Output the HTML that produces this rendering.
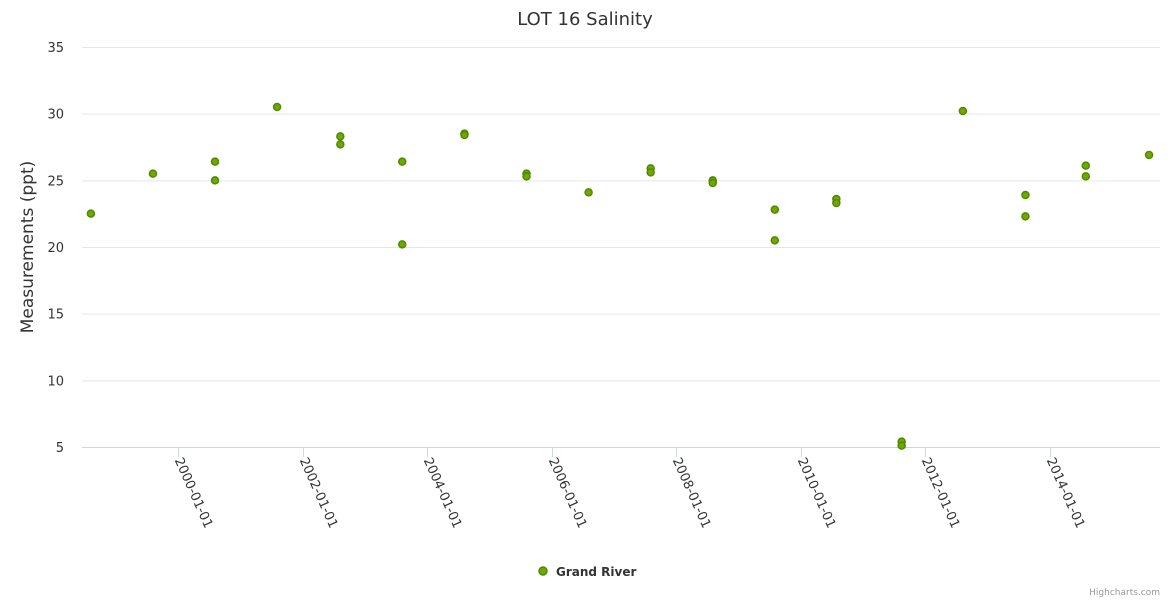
<!DOCTYPE html>
<html><head><meta charset="utf-8"><style>
body{margin:0;background:#fff;font-family:"DejaVu Sans","Liberation Sans",sans-serif;}
svg text{font-family:"DejaVu Sans","Liberation Sans",sans-serif;}
</style></head><body>
<svg id="c" width="1170" height="600">
<text x="585" y="25" text-anchor="middle" font-size="18" fill="#333">LOT 16 Salinity</text>
<text transform="translate(33,247) rotate(-90)" text-anchor="middle" font-size="17" fill="#333">Measurements (ppt)</text>
<g id="grid"></g><g id="xaxis"></g><g id="pts"></g>
<g>
<circle cx="543" cy="571" r="4" fill="#72a603" stroke="#4f8a00" stroke-width="1.5"/>
<text x="556" y="576" font-size="12" font-weight="bold" fill="#333">Grand River</text></g>
<text x="1160" y="595" text-anchor="end" font-size="9" fill="#999">Highcharts.com</text>
</svg>
<script>
const yTicks=[5,10,15,20,25,30,35];
const xTickLabels=["2000-01-01","2002-01-01","2004-01-01","2006-01-01","2008-01-01","2010-01-01","2012-01-01","2014-01-01"];
const dates=["1998-08-08","1999-08-07","2000-08-05","2000-08-05","2001-08-04","2002-08-10","2002-08-10","2003-08-08","2003-08-08","2004-08-07","2004-08-07","2005-08-06","2005-08-06","2006-08-05","2007-08-04","2007-08-04","2008-08-02","2008-08-02","2009-08-01","2009-08-01","2010-07-28","2010-07-28","2011-08-15","2011-08-15","2012-08-08","2013-08-10","2013-08-10","2014-07-30","2014-07-30","2015-08-05"];
const values=[22.5,25.5,26.4,25.0,30.5,28.3,27.7,26.4,20.2,28.5,28.4,25.5,25.3,24.1,25.9,25.6,25.0,24.8,22.8,20.5,23.6,23.3,5.4,5.1,30.2,23.9,22.3,26.1,25.3,26.9];
const NS="http://www.w3.org/2000/svg";
const x0=Date.UTC(2000,0,1),x1=Date.UTC(2014,0,1);
const xs=t=>178+(t-x0)/(x1-x0)*872;
const ys=v=>447-(v-5)*400/30;
const pd=s=>{const a=s.split('-');return Date.UTC(+a[0],+a[1]-1,+a[2]);};
const g=document.getElementById('grid');
yTicks.forEach(v=>{
 const l=document.createElementNS(NS,'line');
 
 
 l.setAttribute('x1',82);l.setAttribute('x2',1160);l.setAttribute('y1',ys(v)+.5);l.setAttribute('y2',ys(v)+.5);
 l.setAttribute('stroke',v===5?'#ccd6eb':'#e6e6e6');g.appendChild(l);
 const t=document.createElementNS(NS,'text');
 
 
 t.setAttribute('x',64);t.setAttribute('y',ys(v)+5);t.setAttribute('text-anchor','end');t.setAttribute('font-size','13');t.setAttribute('fill','#333');
 t.textContent=v;g.appendChild(t);
});
const xa=document.getElementById('xaxis');
xTickLabels.forEach(s=>{
 const x=Math.round(xs(pd(s)))+.5;
 const l=document.createElementNS(NS,'line');
 
 
 l.setAttribute('x1',x);l.setAttribute('x2',x);l.setAttribute('y1',447);l.setAttribute('y2',457);l.setAttribute('stroke','#ccd6eb');xa.appendChild(l);
 const t=document.createElementNS(NS,'text');
 
 
 t.setAttribute('transform','translate('+(x-4)+',460) rotate(66)');t.setAttribute('font-size','13');t.setAttribute('fill','#333');
 t.textContent=s;xa.appendChild(t);
});
const p=document.getElementById('pts');
dates.forEach((d,i)=>{
 const c=document.createElementNS(NS,'circle');
 
 
 c.setAttribute('cx',xs(pd(d)));c.setAttribute('cy',ys(values[i]));c.setAttribute('r',3.5);
 c.setAttribute('fill','#72a603');c.setAttribute('stroke','#4f8a00');c.setAttribute('stroke-width','1.5');p.appendChild(c);
});
</script>
</body></html>
